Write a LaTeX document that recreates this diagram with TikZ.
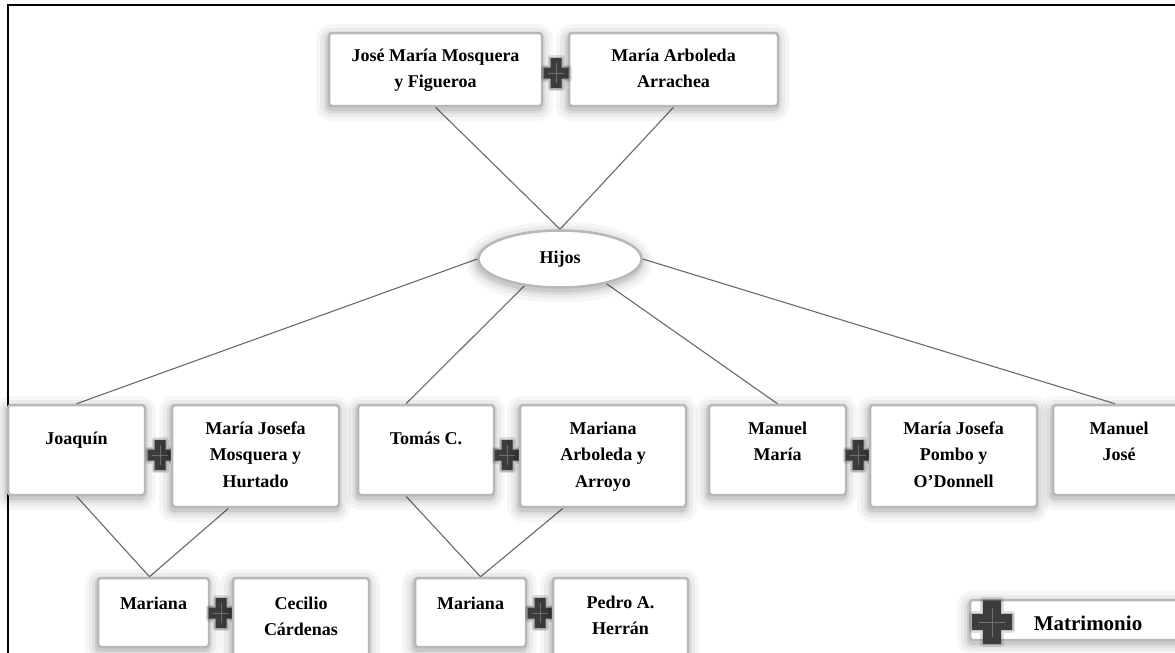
\documentclass[tikz,border=0pt]{standalone}
\usepackage{fontspec}
\setmainfont{Liberation Serif}
\usetikzlibrary{calc,backgrounds,shapes.geometric}
\definecolor{boxgray}{HTML}{B8B8B8}
\definecolor{linegray}{HTML}{6A6A6A}
\definecolor{plusdark}{HTML}{3C3C3C}
\definecolor{pluslight}{HTML}{707070}
\newcommand\famfont{\fontsize{18}{26.5}\selectfont\bfseries}
\newcommand\familybox[7]{%
  \node[famnode, minimum width={(#4)-(#2)}, minimum height={(#5)-(#3)}] (#1) at ({((#2)+(#4))/2},{((#3)+(#5))/2}) {};
  \node[famtext] (#1-t) at ({((#2)+(#4))/2},{(#6)-19}) {\rule{0pt}{19pt}#7};
}
\tikzset{
  halo/.style={draw=black, draw opacity=#1, line join=round, transform canvas={xshift=-1pt,yshift=-3pt}},
  softshadow/.style={
    preaction={halo=0.035, line width=24pt},
    preaction={halo=0.045, line width=16pt},
    preaction={halo=0.06, line width=9pt},
    preaction={halo=0.08, line width=4pt}},
  famnode/.style={rectangle, draw=boxgray, line width=2.5pt, fill=white, rounded corners=3pt, inner sep=0pt, softshadow},
  famtext/.style={anchor=north, inner sep=0pt, align=center, font=\famfont, text=black},
  hijosnode/.style={ellipse, draw=boxgray, line width=2.5pt, fill=white, inner sep=0pt, minimum width=163, minimum height=57, font=\famfont, softshadow},
  conn/.style={draw=linegray, line width=1.1pt},
  legtext/.style={inner sep=0pt, font=\fontsize{21}{25}\selectfont\bfseries},
  plusmark/.pic={
    \fill[plusdark,
      preaction={draw=black, draw opacity=0.12, line width=6pt, line join=round},
      preaction={draw=black, draw opacity=0.15, line width=3pt, line join=round}]
      (-5.5,-15) -- (5.5,-15) -- (5.5,-5.5) -- (12.5,-5.5) -- (12.5,5.5) -- (5.5,5.5) -- (5.5,15)
      -- (-5.5,15) -- (-5.5,5.5) -- (-12.5,5.5) -- (-12.5,-5.5) -- (-5.5,-5.5) -- cycle;
    \draw[pluslight, line width=0.8pt] (-8,0) -- (8,0) (0,-10) -- (0,10);
  }
}
\begin{document}
\begin{tikzpicture}[x=1pt,y=-1pt]
\useasboundingbox (0,0) rectangle (1175,653);
\begin{pgfonlayer}{background}
\fill[white] (0,0) rectangle (1175,653);
\end{pgfonlayer}
\draw[line width=1.8pt] (8,660) -- (8,5) -- (1180,5);

% top couple
\familybox{jose}{329}{33}{542}{106}{61}{José María Mosquera\\y Figueroa}
\familybox{maria}{569}{33}{778}{106}{61}{María Arboleda\\Arrachea}
\pic (p0) at (556,73) {plusmark};

\node[hijosnode] (hijos) at (560,259) {Hijos};

% middle row
\familybox{joaquin}{8}{405}{145}{495}{444}{Joaquín}
\pic (p1) at (160,455) {plusmark};
\familybox{mjmh}{172}{405}{339}{507}{434}{María Josefa\\Mosquera y\\Hurtado}
\familybox{tomas}{358}{405}{494}{495}{444}{Tomás C.}
\pic (p2) at (507,455) {plusmark};
\familybox{maay}{520}{405}{686}{507}{434}{Mariana\\Arboleda y\\Arroyo}
\familybox{mm}{709}{405}{846}{495}{434}{Manuel\\María}
\pic (p3) at (858,455) {plusmark};
\familybox{mjpo}{870}{405}{1037}{507}{434}{María Josefa\\Pombo y\\O’Donnell}
\familybox{mj}{1053}{405}{1185}{495}{434}{Manuel\\José}

% bottom row
\familybox{marA}{98}{578}{209}{647}{609}{Mariana}
\pic (p4) at (221,613) {plusmark};
\familybox{cc}{233}{578}{369}{668}{609}{Cecilio\\Cárdenas}
\familybox{marB}{415}{578}{526}{647}{609}{Mariana}
\pic (p5) at (540,613) {plusmark};
\familybox{pah}{553}{578}{688}{668}{608}{Pedro A.\\Herrán}

% legend
\node[famnode, minimum width=215, minimum height=40] (legend) at (1077.5,620) {};
\pic[xscale=1.6, yscale=1.45] (plegend) at (992,622) {plusmark};
\node[legtext] (legend-t) at (1088,623) {Matrimonio};

\begin{pgfonlayer}{background}
\draw[conn] (jose.south) -- (hijos.north);
\draw[conn] (maria.south) -- (hijos.north);
\draw[conn] (hijos.west) -- (joaquin.north);
\draw[conn] (hijos.217) -- ($(tomas.north)+(-20,0)$);
\draw[conn] (hijos.332) -- (mm.north);
\draw[conn] (hijos.east) -- ($(mj.north)+(-4,0)$);
\draw[conn] (joaquin.south) -- ($(marA.north)+(-4,0)$);
\draw[conn] ($(mjmh.south)+(-27,0)$) -- ($(marA.north)+(-4,0)$);
\draw[conn] ($(tomas.south)+(-20,0)$) -- ($(marB.north)+(10,0)$);
\draw[conn] ($(maay.south)+(-40,0)$) -- ($(marB.north)+(10,0)$);
\end{pgfonlayer}
\end{tikzpicture}
\end{document}
